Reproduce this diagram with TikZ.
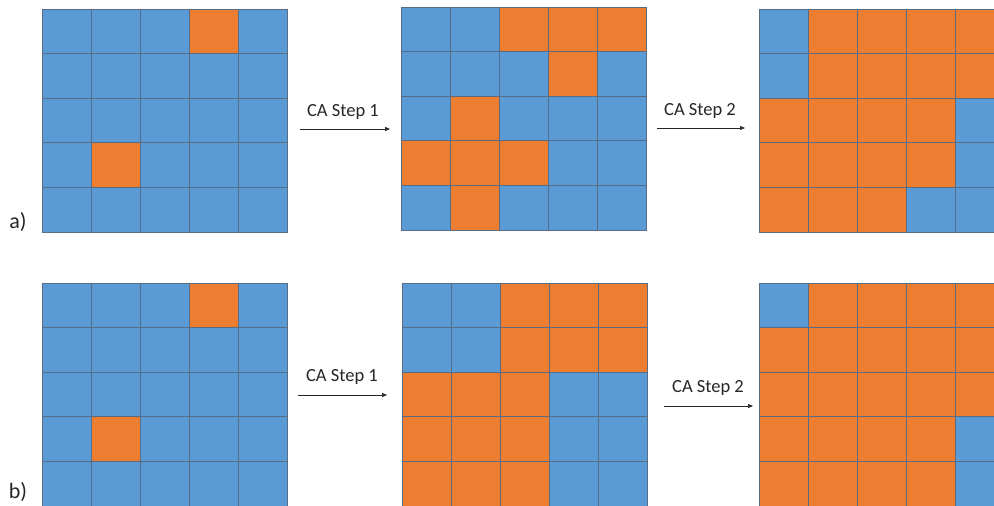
\documentclass[tikz,border=0pt]{standalone}
\usepackage{fontspec}
\setmainfont{Carlito}
\usetikzlibrary{arrows.meta, positioning}
\definecolor{CABlue}{RGB}{91,155,213}
\definecolor{CAOrange}{RGB}{237,125,49}
\definecolor{CAEdge}{RGB}{88,108,134}
\definecolor{CAText}{RGB}{38,38,38}
\tikzset{
  cell/.style={
    rectangle, inner sep=0pt, outer sep=0pt,
    minimum width=49pt, minimum height=44.6pt,
    draw=CAEdge, line width=1pt
  },
  cellb/.style={cell, fill=CABlue},
  cello/.style={cell, fill=CAOrange},
  caarr/.style={-{Triangle[length=5pt, width=4pt]}, draw=CAText, line width=0.7pt},
  steplbl/.style={font=\fontsize{18.5}{20}\selectfont, text=CAText, inner sep=0pt},
  panellbl/.style={font=\fontsize{22}{24}\selectfont, text=CAText, inner sep=0pt}
}
% one 5x5 cellular automaton grid: name, left, top, rows
\newcommand{\cagrid}[4]{%
  \foreach \row [count=\r from 0] in {#4} {
    \foreach \cl [count=\k from 0] in \row {
      \node[cell\cl] (#1-\r-\k) at ({#2+24.5+49*\k}, {#3+22.3+44.6*\r}) {};
    }
  }%
}

\begin{document}
\begin{tikzpicture}[x=1pt, y=-1pt]
  \clip (0,0) rectangle (994,506);

  % row a)
  \cagrid{ga1}{42}{9}{{b,b,b,o,b},{b,b,b,b,b},{b,b,b,b,b},{b,o,b,b,b},{b,b,b,b,b}}
  \cagrid{ga2}{401}{7}{{b,b,o,o,o},{b,b,b,o,b},{b,o,b,b,b},{o,o,o,b,b},{b,o,b,b,b}}
  \cagrid{ga3}{759}{9}{{b,o,o,o,o},{b,o,o,o,o},{o,o,o,o,b},{o,o,o,o,b},{o,o,o,b,b}}

  % row b)
  \cagrid{gb1}{42}{283}{{b,b,b,o,b},{b,b,b,b,b},{b,b,b,b,b},{b,o,b,b,b},{b,b,b,b,b}}
  \cagrid{gb2}{402}{283}{{b,b,o,o,o},{b,b,o,o,o},{o,o,o,b,b},{o,o,o,b,b},{o,o,o,b,b}}
  \cagrid{gb3}{759}{283}{{b,o,o,o,o},{o,o,o,o,o},{o,o,o,o,o},{o,o,o,o,b},{o,o,o,o,b}}

  \node[panellbl] (pa) at (18,222) {a)};
  \node[panellbl] (pb) at (18,492) {b)};

  \coordinate (a1s) at (300,129);
  \coordinate (a1e) at (390,129);
  \coordinate (a2s) at (657,128);
  \coordinate (a2e) at (745,128);
  \coordinate (b1s) at (298,395);
  \coordinate (b1e) at (387,395);
  \coordinate (b2s) at (664,406);
  \coordinate (b2e) at (753,406);

  \node[steplbl] (la1) at (343,112) {CA Step 1};
  \node[steplbl] (la2) at (700,111) {CA Step 2};
  \node[steplbl] (lb1) at (342,377) {CA Step 1};
  \node[steplbl] (lb2) at (708,388) {CA Step 2};

  \draw[caarr] (a1s) -- (a1e);
  \draw[caarr] (a2s) -- (a2e);
  \draw[caarr] (b1s) -- (b1e);
  \draw[caarr] (b2s) -- (b2e);
\end{tikzpicture}
\end{document}
